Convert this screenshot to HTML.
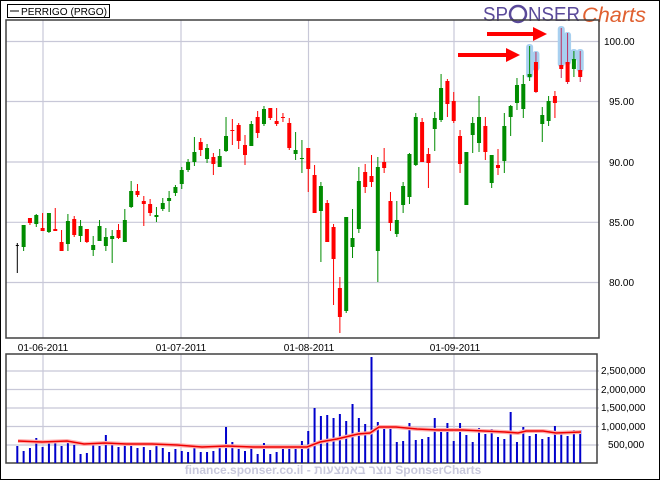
<!DOCTYPE html>
<html><head><meta charset="utf-8"><style>
html,body{margin:0;padding:0;background:#fff}
svg{display:block}
text{font-family:"Liberation Sans",Arial,sans-serif}
</style></head><body>
<svg id="s" width="660" height="480" xmlns="http://www.w3.org/2000/svg">
<rect x="0.5" y="0.5" width="659" height="479" fill="#fff" stroke="#000"/>
<!-- legend -->
<rect x="7.5" y="4.5" width="102" height="13" fill="#fff" stroke="#000"/>
<line x1="10" y1="11" x2="19" y2="11" stroke="#000"/>
<text x="21" y="15" font-size="10" fill="#000" textLength="86" lengthAdjust="spacingAndGlyphs">PERRIGO (PRGO)</text>
<!-- logo -->
<text x="483" y="21" font-size="20" fill="#5a4a9a" textLength="25" lengthAdjust="spacingAndGlyphs">SP</text>
<circle cx="518" cy="14" r="8" fill="none" stroke="#5a4a9a" stroke-width="2.5"/>
<text x="528" y="21" font-size="20" fill="#5a4a9a" textLength="52" lengthAdjust="spacingAndGlyphs">NSER</text>
<text x="582" y="22" font-size="21" fill="#e06030" font-style="italic" font-family="Liberation Serif" textLength="64" lengthAdjust="spacingAndGlyphs">Charts</text>
<!-- main grid -->
<g stroke="#c8c8d8" stroke-width="1.2">
<line x1="6" y1="41.5" x2="599" y2="41.5"/><line x1="6" y1="101.5" x2="599" y2="101.5"/>
<line x1="6" y1="162" x2="599" y2="162"/><line x1="6" y1="222.3" x2="599" y2="222.3"/>
<line x1="6" y1="282.5" x2="599" y2="282.5"/>
<line x1="43" y1="20" x2="43" y2="338"/><line x1="181" y1="20" x2="181" y2="338"/>
<line x1="308.5" y1="20" x2="308.5" y2="338"/><line x1="454" y1="20" x2="454" y2="338"/>
<line x1="6" y1="445" x2="599" y2="445"/><line x1="6" y1="426.5" x2="599" y2="426.5"/>
<line x1="6" y1="408" x2="599" y2="408"/><line x1="6" y1="389.5" x2="599" y2="389.5"/>
<line x1="6" y1="371" x2="599" y2="371"/>
<line x1="43" y1="354" x2="43" y2="463"/><line x1="181" y1="354" x2="181" y2="463"/>
<line x1="308.5" y1="354" x2="308.5" y2="463"/><line x1="454" y1="354" x2="454" y2="463"/>
</g>
<rect x="6" y="20" width="593" height="318" fill="none" stroke="#404040" stroke-width="1.5"/>
<rect x="6" y="354" width="591" height="109" fill="none" stroke="#404040" stroke-width="1.5"/>
<g font-size="10" fill="#000">
<text x="604" y="45">100.00</text><text x="609" y="105">95.00</text><text x="609" y="166">90.00</text>
<text x="609" y="226">85.00</text><text x="609" y="286">80.00</text>
<text x="601" y="374">2,500,000</text><text x="601" y="393">2,000,000</text><text x="601" y="411">1,500,000</text>
<text x="601" y="430">1,000,000</text><text x="608" y="448">500,000</text>
<text x="43" y="351" text-anchor="middle">01-06-2011</text><text x="181" y="351" text-anchor="middle">01-07-2011</text>
<text x="309" y="351" text-anchor="middle">01-08-2011</text><text x="455" y="351" text-anchor="middle">01-09-2011</text>
</g>
<text x="333" y="474" font-size="12" font-weight="bold" fill="#c8c8dc" text-anchor="middle">finance.sponser.co.il - נוצר באמצעות SponserCharts</text>
<!-- arrows -->
<g fill="#ff0000">
<rect x="458" y="53" width="50" height="4"/><polygon points="506,48 520,55 506,62"/>
<rect x="487" y="32" width="48" height="4"/><polygon points="533,27 547,34 533,41"/>
</g>
<g id="c"></g>
<g id="v"></g>
<polyline fill="none" stroke="#ffb0b0" stroke-width="4" points="18,441 42,442 67,441 84,444 105,443 126,444 152,444 177,445 202,447 227,446 253,447 269,447 307,447 320,442 337,439 358,434 370,433 379,427 396,427 417,429 438,430 463,430 505,432 518,433 526,431 543,431 556,433 581,432"/>
<polyline fill="none" stroke="#ee0000" stroke-width="1.6" points="18,441 42,442 67,441 84,444 105,443 126,444 152,444 177,445 202,447 227,446 253,447 269,447 307,447 320,442 337,439 358,434 370,433 379,427 396,427 417,429 438,430 463,430 505,432 518,433 526,431 543,431 556,433 581,432"/>
</svg>
<script>
var C=[
[243,273,245,246,'k'],[225,251,225,247,'g'],[218,225,218,223,'r'],[214,227,215,224,'g'],[213,231,228,231,'r'],[213,233,213,232,'g'],[208,231,229,231,'r'],[230,251,242,251,'r'],[214,251,221,244,'g'],[216,237,219,235,'r'],
[220,242,226,236,'g'],[229,243,229,242,'r'],[236,256,245,250,'g'],[220,241,226,241,'g'],[228,251,237,246,'g'],[230,263,236,239,'g'],[224,239,230,238,'r'],[209,242,220,242,'g'],[181,208,191,207,'g'],[184,197,191,195,'r'],
[196,226,201,204,'r'],[199,216,204,213,'r'],[207,222,215,217,'g'],[198,211,203,209,'g'],[191,212,198,201,'g'],[185,196,187,193,'g'],[167,189,170,184,'g'],[159,172,162,170,'g'],[137,166,152,162,'g'],[138,156,142,150,'r'],
[144,163,148,159,'g'],[153,175,157,164,'r'],[149,167,156,167,'g'],[117,152,136,151,'g'],[119,145,130,131,'r'],[123,149,125,141,'r'],[135,165,145,155,'r'],[121,146,124,146,'g'],[111,138,117,133,'r'],[106,126,109,124,'g'],
[108,120,108,118,'r'],[108,126,121,124,'r'],[113,122,117,118,'r'],[118,150,123,148,'r'],[132,160,150,154,'g'],[140,173,158,159,'g'],[148,192,148,169,'r'],[165,213,175,213,'r'],[182,262,186,211,'g'],[200,242,203,242,'r'],
[224,305,227,259,'r'],[277,333,288,317,'r'],[217,313,217,311,'g'],[209,258,238,247,'g'],[167,233,181,229,'g'],[164,193,172,187,'r'],[155,187,176,182,'r'],[157,282,167,251,'g'],[148,173,162,168,'r'],[192,231,201,223,'r'],
[201,237,220,234,'g'],[182,213,186,205,'g'],[153,204,154,197,'g'],[113,166,117,165,'g'],[118,162,122,162,'r'],[148,188,154,163,'r'],[112,151,118,129,'g'],[74,122,88,120,'g'],[79,117,81,104,'r'],[92,123,101,121,'r'],
[130,173,136,164,'r'],[152,205,152,205,'g'],[117,153,123,135,'g'],[96,152,117,143,'g'],[117,160,126,152,'r'],[155,188,155,183,'g'],[149,175,165,168,'r'],[113,173,126,161,'g'],[105,136,106,117,'g'],[78,110,85,103,'g'],
[75,118,84,109,'g'],[46,81,74,77,'g'],[52,93,62,92,'r'],[107,142,115,124,'g'],[96,126,101,121,'g'],[91,118,96,103,'r'],[28,78,65,69,'r'],[33,84,62,82,'r'],[51,77,59,69,'g'],[51,82,70,77,'r']];
var halo={81:[45,77],82:[52,70],86:[27,66],87:[33,64],88:[50,60],89:[50,71]};
var V=[318,333,324,294,321,300,306,318,300,315,342,339,306,318,285,315,321,306,309,324,321,330,318,324,336,327,333,336,321,336,336,333,318,261,306,327,333,318,342,309,342,336,321,327,324,303,273,204,228,225,234,222,243,192,234,252,51,246,261,264,306,303,249,300,297,291,234,270,249,303,249,285,306,264,282,267,291,297,216,306,261,288,282,297,291,258,273,288,270,270];
var ns="http://www.w3.org/2000/svg",cg=document.getElementById('c'),vg=document.getElementById('v');
function el(g,t,a){var e=document.createElementNS(ns,t);for(var k in a)e.setAttribute(k,a[k]);g.appendChild(e);}
var col={g:'#008c00',r:'#ff0000',k:'#000'};
C.forEach(function(d,i){var x=17.3+6.325*i,c=col[d[4]];
 if(halo[i])el(cg,'rect',{x:x-3.5,y:halo[i][0]-1,width:7,height:halo[i][1]-halo[i][0]+2,rx:3,fill:'#a8d0f0'});
 el(cg,'rect',{x:x-0.5,y:d[0],width:1,height:d[1]-d[0],fill:halo[i]&&d[4]=='r'?'#c03060':c});
 if(d[4]=='k'){el(cg,'rect',{x:x-1.5,y:d[2],width:3,height:1,fill:c});return;}
 el(cg,'rect',{x:x-2,y:d[2],width:4,height:Math.max(1,d[3]-d[2]),fill:c});});
V.forEach(function(y,i){var x=17.3+6.325*i,t=340+y/3;el(vg,'rect',{x:x-1,y:t,width:2,height:463-t,fill:'#0000cc'});});
</script>
</body></html>
